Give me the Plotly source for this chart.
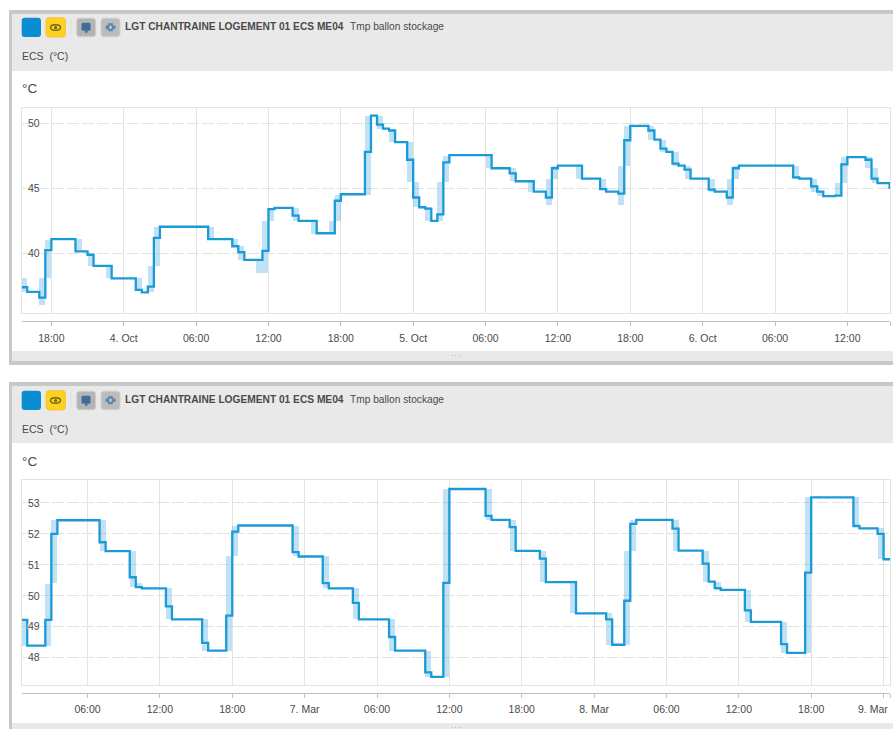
import plotly.graph_objects as go

# ---------- Panel A (October) ----------
a_line_times = ["2017-10-03 15:30","2017-10-03 16:00","2017-10-03 17:00","2017-10-03 17:30","2017-10-03 18:00","2017-10-03 20:00","2017-10-03 21:00","2017-10-03 21:30","2017-10-03 23:00",
 "2017-10-04 01:00","2017-10-04 01:30","2017-10-04 02:00","2017-10-04 02:30","2017-10-04 03:00","2017-10-04 07:00","2017-10-04 09:00","2017-10-04 09:30","2017-10-04 10:00","2017-10-04 11:30","2017-10-04 12:00","2017-10-04 12:30","2017-10-04 14:00","2017-10-04 14:30","2017-10-04 16:00","2017-10-04 17:30","2017-10-04 18:00","2017-10-04 20:00","2017-10-04 20:30","2017-10-04 21:00","2017-10-04 21:30","2017-10-04 22:00","2017-10-04 22:30","2017-10-04 23:30",
 "2017-10-05 00:00","2017-10-05 00:30","2017-10-05 01:00","2017-10-05 01:30","2017-10-05 02:00","2017-10-05 02:30","2017-10-05 03:00","2017-10-05 06:00","2017-10-05 06:30","2017-10-05 08:00","2017-10-05 08:30","2017-10-05 10:00","2017-10-05 11:00","2017-10-05 11:30","2017-10-05 12:00","2017-10-05 14:00","2017-10-05 15:30","2017-10-05 16:00","2017-10-05 17:00","2017-10-05 17:30","2017-10-05 18:00","2017-10-05 19:30","2017-10-05 20:00","2017-10-05 20:30","2017-10-05 21:00","2017-10-05 21:30","2017-10-05 22:00","2017-10-05 22:30","2017-10-05 23:00",
 "2017-10-06 00:30","2017-10-06 01:00","2017-10-06 02:00","2017-10-06 02:30","2017-10-06 03:00","2017-10-06 07:30","2017-10-06 08:00","2017-10-06 09:00","2017-10-06 09:30","2017-10-06 10:00","2017-10-06 11:00","2017-10-06 11:30","2017-10-06 12:00","2017-10-06 13:30","2017-10-06 14:00","2017-10-06 14:30","2017-10-06 15:30","2017-10-06 16:00"]
a_line_values = [37.4,37.05,36.6,40.25,41.1,40.15,39.9,39.05,38.08,
 37.2,37.0,37.45,41.2,42.05,41.1,40.55,40.1,39.5,40.2,43.4,43.5,42.9,42.5,41.55,44.05,44.55,47.8,50.6,49.9,49.6,49.45,48.55,47.2,
 44.3,43.55,43.45,42.5,43.0,47.0,47.55,47.55,46.55,46.15,45.55,44.75,44.3,46.55,46.75,45.75,44.95,44.75,44.6,48.7,49.8,49.45,48.75,48.05,47.8,46.9,46.75,46.45,45.75,
 44.9,44.75,44.3,46.55,46.75,45.85,45.75,45.15,44.75,44.4,44.45,46.85,47.4,47.2,45.75,45.4,45.05,45.05]
a_band_times = ["2017-10-03 15:30","2017-10-03 17:00","2017-10-03 17:30","2017-10-03 20:00","2017-10-03 21:00","2017-10-03 22:30",
 "2017-10-04 01:00","2017-10-04 02:00","2017-10-04 02:30","2017-10-04 07:00","2017-10-04 09:00","2017-10-04 09:30","2017-10-04 11:00","2017-10-04 11:30","2017-10-04 12:00","2017-10-04 14:00","2017-10-04 15:30","2017-10-04 17:00","2017-10-04 17:30","2017-10-04 20:00","2017-10-04 21:00","2017-10-04 22:00","2017-10-04 23:30",
 "2017-10-05 00:00","2017-10-05 01:00","2017-10-05 02:00","2017-10-05 02:30","2017-10-05 06:00","2017-10-05 08:00","2017-10-05 09:30","2017-10-05 11:00","2017-10-05 11:30","2017-10-05 13:30","2017-10-05 15:30","2017-10-05 17:00","2017-10-05 17:30","2017-10-05 19:30","2017-10-05 20:30","2017-10-05 21:30","2017-10-05 22:30",
 "2017-10-06 00:30","2017-10-06 02:00","2017-10-06 02:30","2017-10-06 07:30","2017-10-06 09:00","2017-10-06 09:30","2017-10-06 11:00","2017-10-06 11:30","2017-10-06 13:30","2017-10-06 14:00","2017-10-06 15:30"]
a_band_low = [37.05,36.05,38.1,40.15,39.05,38.1,
 37.2,37.0,39.05,41.1,40.55,39.5,38.5,38.5,42.5,42.5,41.5,41.6,42.5,44.5,49.6,48.55,45.5,
 43.55,42.5,42.5,45.5,46.55,45.55,44.75,43.75,45.75,45.75,44.9,43.75,46.75,48.75,47.8,46.75,45.75,
 44.75,43.75,45.75,45.75,44.75,44.4,44.4,45.4,46.6,45.45,44.4]
a_band_high = [38.1,38.1,41.05,41.1,39.9,39.05,
 38.1,39.05,42.05,42.05,41.1,40.55,39.5,42.5,43.5,43.5,42.5,42.5,44.5,50.55,50.55,49.6,48.55,
 45.5,43.55,45.5,47.5,47.55,46.55,45.55,45.75,46.75,46.75,45.75,46.75,49.8,49.8,48.75,47.8,46.75,
 45.75,45.75,46.75,46.75,45.75,44.75,45.4,47.45,47.45,46.6,45.4]
a_tick_times = ["2017-10-03 18:00","2017-10-04 00:00","2017-10-04 06:00","2017-10-04 12:00","2017-10-04 18:00","2017-10-05 00:00","2017-10-05 06:00","2017-10-05 12:00","2017-10-05 18:00","2017-10-06 00:00","2017-10-06 06:00","2017-10-06 12:00"]
a_tick_labels = ["18:00","4. Oct","06:00","12:00","18:00","5. Oct","06:00","12:00","18:00","6. Oct","06:00","12:00"]
a_range = ["2017-10-03 15:34","2017-10-06 15:32"]
a_y_ticks = [40,45,50]
a_y_range = [35.42,51.18]

# ---------- Panel B (March) ----------
b_line_times = ["2017-03-06 00:30","2017-03-06 01:00","2017-03-06 02:30","2017-03-06 03:00","2017-03-06 03:30","2017-03-06 07:00","2017-03-06 07:30","2017-03-06 09:30","2017-03-06 10:00","2017-03-06 10:30","2017-03-06 12:30","2017-03-06 13:00","2017-03-06 15:30","2017-03-06 16:00","2017-03-06 17:30","2017-03-06 18:00","2017-03-06 18:30","2017-03-06 23:00","2017-03-06 23:30",
 "2017-03-07 01:30","2017-03-07 02:00","2017-03-07 04:00","2017-03-07 04:30","2017-03-07 07:00","2017-03-07 07:30","2017-03-07 10:00","2017-03-07 10:30","2017-03-07 11:30","2017-03-07 12:00","2017-03-07 15:00","2017-03-07 15:30","2017-03-07 17:00","2017-03-07 17:30","2017-03-07 19:30","2017-03-07 20:00","2017-03-07 22:30",
 "2017-03-08 01:00","2017-03-08 01:30","2017-03-08 02:30","2017-03-08 03:00","2017-03-08 03:30","2017-03-08 06:30","2017-03-08 07:00","2017-03-08 09:00","2017-03-08 09:30","2017-03-08 10:00","2017-03-08 10:30","2017-03-08 12:30","2017-03-08 13:00","2017-03-08 15:30","2017-03-08 16:00","2017-03-08 17:30","2017-03-08 18:00","2017-03-08 21:30","2017-03-08 22:00","2017-03-08 23:30",
 "2017-03-09 00:00","2017-03-09 01:00"]
b_line_values = [49.22,48.39,49.22,52.0,52.44,51.73,51.44,50.6,50.28,50.24,49.66,49.24,48.48,48.23,49.36,52.07,52.27,51.41,51.27,
 50.41,50.24,49.77,49.24,48.67,48.23,47.53,47.38,50.42,53.45,52.58,52.45,52.22,51.45,51.2,50.44,49.43,
 49.24,48.42,49.84,52.32,52.45,52.17,51.46,51.04,50.46,50.25,50.19,49.53,49.16,48.44,48.16,50.75,53.18,52.26,52.18,52.0,
 51.18,51.18]
b_band_times = ["2017-03-06 00:30","2017-03-06 02:30","2017-03-06 03:00","2017-03-06 07:00","2017-03-06 09:30","2017-03-06 10:00","2017-03-06 12:30","2017-03-06 15:30","2017-03-06 17:30","2017-03-06 18:00","2017-03-06 23:00",
 "2017-03-07 01:30","2017-03-07 04:00","2017-03-07 07:00","2017-03-07 10:00","2017-03-07 11:30","2017-03-07 15:00","2017-03-07 17:00","2017-03-07 19:30","2017-03-07 22:00",
 "2017-03-08 01:00","2017-03-08 02:30","2017-03-08 03:00","2017-03-08 06:30","2017-03-08 09:00","2017-03-08 10:00","2017-03-08 12:30","2017-03-08 15:30","2017-03-08 17:30","2017-03-08 21:30","2017-03-08 23:30"]
b_band_low = [48.39,48.39,50.41,51.44,50.28,50.24,49.24,48.23,48.23,51.27,51.27,
 50.24,49.24,48.23,47.38,47.38,52.45,51.45,50.44,49.43,
 48.42,48.42,51.46,51.46,50.46,50.19,49.16,48.16,48.16,52.18,51.18]
b_band_high = [49.22,50.38,52.44,52.44,51.44,50.43,50.24,49.24,51.27,52.27,52.27,
 51.27,50.24,49.24,48.23,53.45,53.45,52.45,51.45,50.44,
 49.43,51.46,52.45,52.45,51.46,50.46,50.19,49.16,53.18,53.18,52.18]
b_tick_times = ["2017-03-06 06:00","2017-03-06 12:00","2017-03-06 18:00","2017-03-07 00:00","2017-03-07 06:00","2017-03-07 12:00","2017-03-07 18:00","2017-03-08 00:00","2017-03-08 06:00","2017-03-08 12:00","2017-03-08 18:00","2017-03-09 00:00"]
b_tick_labels = ["06:00","12:00","18:00","7. Mar","06:00","12:00","18:00","8. Mar","06:00","12:00","18:00",""]
b_last_label = "9. Mar"
b_range = ["2017-03-06 00:34","2017-03-09 00:32"]
b_y_ticks = [48,49,50,51,52,53]
b_y_range = [47.12,53.74]

device_name = "LGT CHANTRAINE LOGEMENT 01 ECS ME04"
sensor_name = "Tmp ballon stockage"
group_name = "ECS  (°C)"
unit_name = "°C"

W, H = 893, 729
FONT = "Liberation Sans, Arial, sans-serif"
TXT = "#4a4a4a"
LINE = "#1a9ad6"
BAND = "rgba(30,150,215,0.28)"
GRID = "#e3e3e3"
AXIS = "#c0c0c0"

def px(x): return x / W
def py(y): return 1 - y / H

shapes, annotations = [], []

def rect(x0, y0, x1, y1, color):
    shapes.append(dict(type="rect", xref="paper", yref="paper", layer="below",
                       x0=px(x0), x1=px(x1), y0=py(y1), y1=py(y0),
                       fillcolor=color, line=dict(width=0)))

def rrect(x0, y0, x1, y1, r, color, border=None):
    p = (f"M{px(x0+r)},{py(y0)} L{px(x1-r)},{py(y0)} Q{px(x1)},{py(y0)} {px(x1)},{py(y0+r)} "
         f"L{px(x1)},{py(y1-r)} Q{px(x1)},{py(y1)} {px(x1-r)},{py(y1)} L{px(x0+r)},{py(y1)} "
         f"Q{px(x0)},{py(y1)} {px(x0)},{py(y1-r)} L{px(x0)},{py(y0+r)} Q{px(x0)},{py(y0)} {px(x0+r)},{py(y0)} Z")
    shapes.append(dict(type="path", xref="paper", yref="paper", layer="below", path=p,
                       fillcolor=color, line=dict(width=1 if border else 0, color=border or color)))

def text(x, y, s, size, color=TXT, anchor="left"):
    annotations.append(dict(xref="paper", yref="paper", x=px(x), y=py(y), text=s, showarrow=False,
                            xanchor=anchor, yanchor="middle", align="left",
                            font=dict(family=FONT, size=size, color=color),
                            borderpad=0, borderwidth=0))

def panel(top, bottom, dy, footer_top):
    rect(9, top, W, bottom, "#c8c8c8")
    rect(12, top + 4, W, top + 61, "#e9e9e9")
    rect(12, top + 61, W, footer_top, "#ffffff")
    rect(12, footer_top, W, min(bottom, footer_top + 10), "#e9e9e9")
    b = 17.7 + dy
    rrect(21.7, b, 41, b + 19.3, 3, "#0a8ed3")
    rrect(46, b, 65.5, b + 19.3, 3, "#fdd21f", "#f5c63a")
    rect(70.5, b + 1, 71.2, b + 17, "#dcdcdc")
    rrect(76.7, b + 0.5, 95.7, b + 19, 3, "#b4b4b4", "#d0d0d0")
    rrect(101, b + 0.5, 120, b + 19, 3, "#bcbcbc", "#d0d0d0")
    # eye icon
    shapes.append(dict(type="circle", xref="paper", yref="paper", layer="below",
                       x0=px(50.5), x1=px(60.5), y0=py(b + 12.5), y1=py(b + 7),
                       fillcolor="rgba(0,0,0,0)", line=dict(width=1.4, color="#75651a")))
    shapes.append(dict(type="circle", xref="paper", yref="paper", layer="below",
                       x0=px(54), x1=px(57.2), y0=py(b + 11.4), y1=py(b + 8.2),
                       fillcolor="#75651a", line=dict(width=0)))
    # message icon
    rrect(81.5, b + 5, 90.5, b + 13, 1.5, "#3f6c98")
    rect(85, b + 13, 87.5, b + 15, "#3f6c98")
    # meter icon
    rrect(105.5, b + 7.5, 115.5, b + 11.5, 1.5, "#5b86ad")
    rect(108.2, b + 5.5, 112.8, b + 13.5, "#5b86ad")
    rect(109.5, b + 8, 111.5, b + 11, "#d5dde5")
    text(125, 26.7 + dy, f"<b>{device_name}</b>", 10.2)
    text(349.5, 26.7 + dy, sensor_name, 10.2)
    text(21.8, 56 + dy, group_name, 10.5)
    text(21.8, 88.5 + dy, unit_name, 13.5)
    text(456, footer_top + 2.3, ". . .", 6.5, "#6f7f95", anchor="center")

panel(10, 365, 0, 351)
panel(382, 740, 373, 723)

fig = go.Figure()

def draw(times, values, btimes, lo, hi, xa, ya):
    fig.add_trace(go.Bar(x=btimes, y=[h - l for h, l in zip(hi, lo)], base=lo,
                         width=1800000, offset=0, marker=dict(color=BAND, line=dict(width=0)),
                         xaxis=xa, yaxis=ya, hoverinfo="skip", showlegend=False))
    fig.add_trace(go.Scatter(x=times, y=values, mode="lines", line=dict(color=LINE, width=2.3, shape="hv"),
                             xaxis=xa, yaxis=ya, showlegend=False))

def ghost(times, values, xa, ya):
    fig.add_trace(go.Scatter(x=times, y=values, mode="lines", line=dict(width=0), opacity=0,
                             xaxis=xa, yaxis=ya, hoverinfo="skip", showlegend=False))

draw(a_line_times, a_line_values, a_band_times, a_band_low, a_band_high, "x", "y")
ghost(a_line_times, a_line_values, "x2", "y")
draw(b_line_times, b_line_values, b_band_times, b_band_low, b_band_high, "x3", "y3")
ghost(b_line_times, b_line_values, "x4", "y3")

tickfont = dict(family=FONT, size=10.5, color=TXT)
yfont = dict(family=FONT, size=10.5, color=TXT, shadow="0 0 3px #fff, 0 0 3px #fff, 0 0 3px #fff")
dom_x = [px(22), px(890)]

def grid_x(rng, ticks, anchor):
    return dict(domain=dom_x, type="date", range=rng, tickmode="array", tickvals=ticks,
                showticklabels=False, ticks="", showgrid=True, gridcolor=GRID, gridwidth=1,
                showline=True, mirror=True, linecolor=GRID, linewidth=1, anchor=anchor, zeroline=False)

def line_x(rng, ticks, labels, pos, overlay):
    return dict(domain=dom_x, type="date", range=rng, tickmode="array",
                tickvals=[rng[0]] + ticks + [rng[1]], ticktext=[""] + labels + [""],
                showgrid=False, zeroline=False, showline=True, linecolor=AXIS, linewidth=1,
                ticks="outside", ticklen=4, tickcolor=AXIS, tickwidth=1, tickfont=tickfont,
                ticklabelstandoff=3,
                anchor="free", position=pos, overlaying=overlay, side="bottom", tickangle=0)

def val_y(rng, ticks, dom, anchor):
    return dict(domain=dom, range=rng, tickmode="array", tickvals=ticks, ticktext=[str(t) for t in ticks],
                showgrid=True, gridcolor=GRID, griddash="12px,3px", gridwidth=1, zeroline=False,
                ticklabelposition="inside", ticks="", tickfont=yfont, ticklabelstandoff=5,
                showline=True, mirror=True, linecolor=GRID, linewidth=1, anchor=anchor)

text(873, 708.7, b_last_label, 10.5, anchor="center")

fig.update_layout(
    width=W, height=H, margin=dict(l=0, r=0, t=0, b=0), autosize=False,
    paper_bgcolor="#ffffff", plot_bgcolor="rgba(0,0,0,0)", barmode="overlay", bargap=0,
    showlegend=False, shapes=shapes, annotations=annotations,
    xaxis=grid_x(a_range, a_tick_times, "y"),
    xaxis2=line_x(a_range, a_tick_times, a_tick_labels, py(320.9), "x"),
    yaxis=val_y(a_y_range, a_y_ticks, [py(313), py(108)], "x"),
    xaxis3=grid_x(b_range, b_tick_times, "y3"),
    xaxis4=line_x(b_range, b_tick_times, b_tick_labels, py(692.5), "x3"),
    yaxis3=val_y(b_y_range, b_y_ticks, [py(685), py(480)], "x3"),
)

fig.write_html("out.html", config={"displayModeBar": False},
               post_script="document.body.style.margin='0';document.documentElement.style.overflow='hidden';")
